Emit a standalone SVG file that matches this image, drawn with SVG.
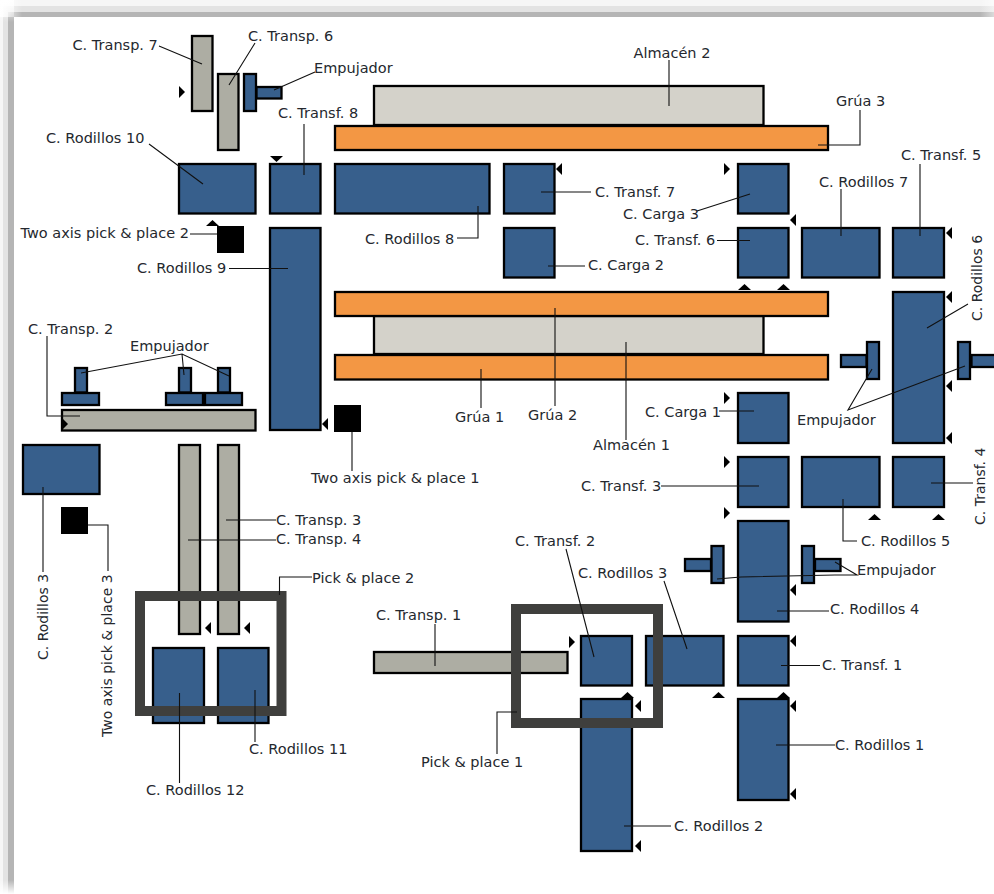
<svg xmlns="http://www.w3.org/2000/svg" width="994" height="894" viewBox="0 0 994 894">
<style>
text{font-family:"DejaVu Sans",Verdana,sans-serif;font-size:14.500px;fill:#24282e}
text.r{font-size:14px}
.n{stroke:#000;stroke-width:2.300}
.b{fill:#375f8c}.g{fill:#adada3}.l{fill:#d4d2ca}.o{fill:#f39744}.k{fill:#000}
.p{fill:none;stroke:#3f3f3d;stroke-width:10}
#connectors path{fill:none;stroke:#111;stroke-width:1.1}
#markers path{fill:#000}
</style>
<defs>
<path id="ml" d="M0 6L6 0V12Z"/><path id="mr" d="M6 6L0 0V12Z"/><path id="mu" d="M6.5 0L13 6H0Z"/><path id="md" d="M6.5 6L13 0H0Z"/>
<linearGradient id="fadeR" x1="0" x2="1" y1="0" y2="0"><stop offset="0" stop-color="#fff" stop-opacity="0"/><stop offset="1" stop-color="#fff" stop-opacity=".5"/></linearGradient>
<linearGradient id="fadeL" x1="0" x2="1" y1="0" y2="0"><stop offset="0" stop-color="#fff"/><stop offset="1" stop-color="#fff" stop-opacity="0"/></linearGradient>
<linearGradient id="fadeT" x1="0" x2="0" y1="0" y2="1"><stop offset="0" stop-color="#fff"/><stop offset="1" stop-color="#fff" stop-opacity="0"/></linearGradient>
<linearGradient id="fadeB" x1="0" x2="0" y1="0" y2="1"><stop offset="0" stop-color="#fff" stop-opacity="0"/><stop offset="1" stop-color="#fff"/></linearGradient>
</defs>
<rect width="994" height="894" fill="#fff"/>
<g id="frame">
<rect x="0" y="0" width="994" height="6" fill="#f6f6f6"/>
<rect x="0" y="0" width="3" height="894" fill="#f6f6f6"/>
<rect x="3" y="6" width="991" height="6" fill="#e3e3e3"/>
<rect x="3" y="6" width="5" height="888" fill="#e3e3e3"/>
<rect x="8" y="12" width="986" height="5" fill="#b5b5b5"/>
<rect x="8" y="12" width="6" height="882" fill="#b5b5b5"/>
<rect x="0" y="0" width="22" height="17" fill="url(#fadeL)"/>
<rect x="0" y="0" width="14" height="22" fill="url(#fadeT)"/>
<rect x="980" y="0" width="14" height="18" fill="url(#fadeR)"/>
<rect x="0" y="880" width="14" height="14" fill="url(#fadeB)"/>
</g>
<g id="transp7"><rect class="n g" x="192" y="36" width="20.500" height="75"/><text x="72.500" y="50">C. Transp. 7</text></g>
<g id="transp6"><rect class="n g" x="218" y="74" width="20.500" height="76"/><text x="248" y="41">C. Transp. 6</text></g>
<g id="empujador1"><rect class="n b" x="244" y="74" width="12" height="37"/><rect class="n b" x="256.500" y="87" width="25" height="11.500"/><text x="314" y="73">Empujador</text></g>
<g id="almacen2"><rect class="n l" x="374" y="86" width="389.500" height="39"/><text x="633.500" y="58">Almacén 2</text></g>
<g id="grua3"><rect class="n o" x="335" y="126" width="493" height="24"/><text x="836" y="106">Grúa 3</text></g>
<g id="rod10"><rect class="n b" x="179" y="164" width="76.500" height="49.500"/><text x="46" y="143">C. Rodillos 10</text></g>
<g id="transf8"><rect class="n b" x="270" y="164" width="50.500" height="49.500"/><text x="278" y="118">C. Transf. 8</text></g>
<g id="rod8"><rect class="n b" x="335" y="164" width="154.500" height="49.500"/><text x="365" y="244">C. Rodillos 8</text></g>
<g id="transf7"><rect class="n b" x="504" y="164" width="50.500" height="49.500"/><text x="595" y="197">C. Transf. 7</text></g>
<g id="carga3"><rect class="n b" x="738" y="164" width="50.500" height="49.500"/><text x="623" y="219">C. Carga 3</text></g>
<g id="carga2"><rect class="n b" x="504" y="228" width="50.500" height="49.500"/><text x="588" y="270">C. Carga 2</text></g>
<g id="transf6"><rect class="n b" x="738" y="228" width="50.500" height="49.500"/><text x="635" y="245">C. Transf. 6</text></g>
<g id="rod7"><rect class="n b" x="802" y="228" width="77.500" height="49.500"/><text x="819" y="187">C. Rodillos 7</text></g>
<g id="transf5"><rect class="n b" x="893" y="228" width="51" height="49.500"/><text x="901" y="160">C. Transf. 5</text></g>
<g id="rod9"><rect class="n b" x="270" y="228" width="50.500" height="202"/><text x="137" y="273">C. Rodillos 9</text></g>
<g id="almacen1"><rect class="n l" x="374" y="316" width="389.500" height="38"/><text x="593" y="450">Almacén 1</text></g>
<g id="grua2"><rect class="n o" x="335" y="292" width="493" height="24"/><text x="528" y="420">Grúa 2</text></g>
<g id="grua1"><rect class="n o" x="335" y="355" width="493" height="24.500"/><text x="455" y="422">Grúa 1</text></g>
<g id="rod6"><rect class="n b" x="893" y="292" width="51" height="151"/><text class="r" transform="translate(982 321) rotate(-90)">C. Rodillos 6</text></g>
<g id="pick2"><rect class="k" x="217" y="226" width="27" height="27"/><text x="20.500" y="238">Two axis pick &amp; place 2</text></g>
<g id="pick1"><rect class="k" x="334" y="405" width="27" height="27"/><text x="311" y="483">Two axis pick &amp; place 1</text></g>
<g id="pick3"><rect class="k" x="61" y="507" width="27" height="27"/><text class="r" transform="translate(112 737) rotate(-90)">Two axis pick &amp; place 3</text></g>
<g id="empujador2"><rect class="n b" x="75" y="368" width="12" height="24.500"/><rect class="n b" x="62" y="393" width="37" height="12"/><rect class="n b" x="179" y="368" width="12" height="24.500"/><rect class="n b" x="166" y="393" width="37" height="12"/><rect class="n b" x="218" y="368" width="12" height="24.500"/><rect class="n b" x="205" y="393" width="37" height="12"/><text x="130" y="351">Empujador</text></g>
<g id="transp2"><rect class="n g" x="62" y="410" width="193.500" height="20.500"/><text x="28" y="334">C. Transp. 2</text></g>
<g id="rod3a"><rect class="n b" x="23" y="445" width="76.500" height="49"/><text class="r" transform="translate(48 660) rotate(-90)">C. Rodillos 3</text></g>
<g id="transp4"><rect class="n g" x="179" y="445" width="21" height="189"/><text x="276" y="544">C. Transp. 4</text></g>
<g id="transp3"><rect class="n g" x="218" y="445" width="21" height="189"/><text x="276" y="525">C. Transp. 3</text></g>
<g id="rod12"><rect class="n b" x="153" y="648" width="51" height="75"/><text x="146" y="795">C. Rodillos 12</text></g>
<g id="rod11"><rect class="n b" x="218" y="648" width="50.500" height="75"/><text x="249" y="754">C. Rodillos 11</text></g>
<g id="transp1"><rect class="n g" x="374" y="652" width="193.500" height="21"/><text x="376" y="620">C. Transp. 1</text></g>
<g id="transf2"><rect class="n b" x="581" y="636" width="51" height="49.500"/><text x="515" y="546">C. Transf. 2</text></g>
<g id="rod3b"><rect class="n b" x="646" y="636" width="77.500" height="49.500"/><text x="578" y="578">C. Rodillos 3</text></g>
<g id="transf1"><rect class="n b" x="738" y="636" width="50.500" height="49.500"/><text x="822" y="670">C. Transf. 1</text></g>
<g id="rod2"><rect class="n b" x="581" y="699" width="51" height="152"/><text x="674" y="831">C. Rodillos 2</text></g>
<g id="rod1"><rect class="n b" x="738" y="699" width="50.500" height="101"/><text x="835" y="750">C. Rodillos 1</text></g>
<g id="rod4"><rect class="n b" x="738" y="521" width="50.500" height="100.500"/><text x="830" y="614">C. Rodillos 4</text></g>
<g id="transf3"><rect class="n b" x="738" y="457" width="50.500" height="50"/><text x="581" y="491">C. Transf. 3</text></g>
<g id="rod5"><rect class="n b" x="802" y="457" width="77.500" height="50"/><text x="861" y="546">C. Rodillos 5</text></g>
<g id="transf4"><rect class="n b" x="893" y="457" width="51" height="50"/><text class="r" transform="translate(985 525) rotate(-90)">C. Transf. 4</text></g>
<g id="carga1"><rect class="n b" x="738" y="393" width="50.500" height="50"/><text x="645" y="417">C. Carga 1</text></g>
<g id="empujador3"><rect class="n b" x="711.500" y="546" width="12" height="37"/><rect class="n b" x="685" y="559" width="26" height="12"/><rect class="n b" x="802" y="546" width="12" height="37"/><rect class="n b" x="815" y="559" width="25.500" height="12"/><text x="857" y="575">Empujador</text></g>
<g id="empujador4"><rect class="n b" x="867" y="342" width="12" height="37"/><rect class="n b" x="841" y="355" width="25.500" height="12"/><rect class="n b" x="958" y="342" width="12" height="37"/><rect class="n b" x="971.500" y="355" width="24" height="12"/><text x="797" y="425">Empujador</text></g>
<g id="pickplace2"><rect class="p" x="140" y="596" width="141.500" height="115"/><text x="312" y="583">Pick &amp; place 2</text></g>
<g id="pickplace1"><rect class="p" x="516" y="609" width="142" height="114"/><text x="421" y="767">Pick &amp; place 1</text></g>
<g id="markers">
<use href="#mr" x="179" y="86"/><use href="#md" x="270" y="156"/><use href="#mu" x="206" y="220"/><use href="#mr" x="62" y="418"/><use href="#ml" x="322" y="418"/>
<use href="#ml" x="556" y="163"/><use href="#mr" x="724" y="163"/><use href="#ml" x="790" y="214"/><use href="#ml" x="946" y="227"/><use href="#mu" x="738" y="284"/><use href="#mu" x="777" y="284"/><use href="#ml" x="946" y="291"/><use href="#ml" x="946" y="380"/><use href="#mr" x="724" y="392"/><use href="#ml" x="946" y="432"/>
<use href="#ml" x="205" y="622"/><use href="#ml" x="244" y="622"/>
<use href="#mr" x="724" y="456"/><use href="#mr" x="724" y="507"/><use href="#mu" x="868" y="514"/><use href="#mu" x="932" y="514"/><use href="#ml" x="790" y="584"/><use href="#mr" x="569" y="636"/><use href="#mu" x="621" y="692"/><use href="#ml" x="635" y="700"/><use href="#mu" x="712" y="692"/><use href="#ml" x="790" y="635"/><use href="#mu" x="777" y="692"/><use href="#ml" x="790" y="700"/><use href="#ml" x="790" y="788"/><use href="#ml" x="635" y="840"/>
</g>
<g id="connectors">
<path d="M159 46L202 64M255 43L229 85M315 72L274 90M304 124V175M149 144L203 184M190 234H217M478 206V238H457M229 268.500H288M47 336V416H80"/>
<path d="M81 373L182 354L229 376M182 354L184 375M481 369V408M669 60V106M818 145H860V110M541 192H591M697 211L750 194M717 240.500H750M548 266H585M841 189V236M920 164V236M968 304L927 328"/>
<path d="M872 369L848 410L965 366M555 308V406M626 342V440M719 411H754M352 432V471M43 487V572M88 525H108V571M226 520H276M188 540H276M312 577H279.500V595M435 624V666M179.500 693V783M255 690V742M517 712H497V754"/>
<path d="M661 486H759M931 483H973M843 499V541H857M835 562L857 575H835L741 577L717 579M566 549L594 657M664 581L687 649M777 611H829M781 665.500H820M776 745H835M624 826H671"/>
</g>
</svg>
